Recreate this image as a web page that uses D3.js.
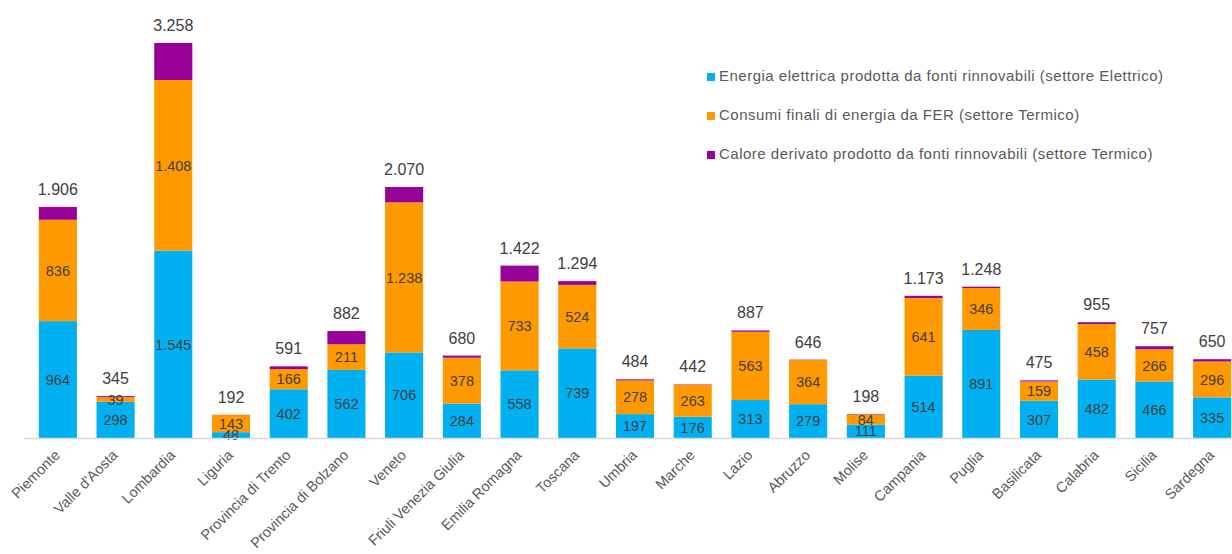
<!DOCTYPE html>
<html>
<head>
<meta charset="utf-8">
<script src="https://cdn.jsdelivr.net/npm/d3@7"></script>
<style>
  html, body { margin: 0; padding: 0; background: #fff; }
  svg { display: block; font-family: "Liberation Sans", Arial, sans-serif; }
</style>
</head>
<body>
<svg id="chart" width="1232" height="554"></svg>
<script>
// Regions (x categories)
const regions = ["Piemonte", "Valle d'Aosta", "Lombardia", "Liguria", "Provincia di Trento",
  "Provincia di Bolzano", "Veneto", "Friuli Venezia Giulia", "Emilia Romagna", "Toscana",
  "Umbria", "Marche", "Lazio", "Abruzzo", "Molise", "Campania", "Puglia", "Basilicata",
  "Calabria", "Sicilia", "Sardegna"];

// Energia elettrica prodotta da fonti rinnovabili (settore Elettrico)
const elettrico = [964, 298, 1545, 48, 402, 562, 706, 284, 558, 739, 197, 176, 313, 279, 111, 514, 891, 307, 482, 466, 335];
// Consumi finali di energia da FER (settore Termico)
const termico = [836, 39, 1408, 143, 166, 211, 1238, 378, 733, 524, 278, 263, 563, 364, 84, 641, 346, 159, 458, 266, 296];
// Calore derivato prodotto da fonti rinnovabili (settore Termico)
const calore = [106, 8, 305, 1, 23, 109, 126, 18, 131, 31, 9, 3, 11, 3, 3, 18, 11, 9, 15, 25, 19];
// Totals printed above each bar
const totali = [1906, 345, 3258, 192, 591, 882, 2070, 680, 1422, 1294, 484, 442, 887, 646, 198, 1173, 1248, 475, 955, 757, 650];

const seriesNames = [
  "Energia elettrica prodotta da fonti rinnovabili (settore Elettrico)",
  "Consumi finali di energia da FER (settore Termico)",
  "Calore derivato prodotto da fonti rinnovabili (settore Termico)"
];
const colors = ["#00B0F0", "#FF9900", "#990099"];

const it = d3.formatLocale({ decimal: ",", thousands: ".", grouping: [3], currency: ["€", ""] });
const fmt = it.format(",d");

const svg = d3.select("#chart");
const baseY = 438;

const rows = regions.map((r, i) => ({ region: r, el: elettrico[i], te: termico[i], ca: calore[i], tot: totali[i] }));
const keys = ["el", "te", "ca"];
const stacked = d3.stack().keys(keys)(rows);

const x = d3.scaleBand().domain(regions).range([29, 1241]).paddingInner(0.34).paddingOuter(0.17);
const y = d3.scaleLinear().domain([0, 3258]).range([baseY, 43]);

// Stacked segments
const layer = svg.append("g").selectAll("g").data(stacked).join("g")
  .attr("fill", (d, i) => colors[i]);
layer.selectAll("rect").data(d => d).join("rect")
  .attr("x", d => x(d.data.region))
  .attr("width", x.bandwidth())
  .attr("y", d => y(d[1]))
  .attr("height", d => y(d[0]) - y(d[1]));

// Segment value labels (first two series)
stacked.slice(0, 2).forEach(s => {
  svg.append("g").selectAll("text").data(s).join("text")
    .attr("x", d => x(d.data.region) + x.bandwidth() / 2)
    .attr("y", d => (y(d[0]) + y(d[1])) / 2)
    .attr("dy", "0.36em")
    .attr("text-anchor", "middle")
    .attr("font-size", 14.5)
    .attr("fill", "#404040")
    .text(d => fmt(d[1] - d[0]));
});

// Totals above the bars
svg.append("g").selectAll("text").data(rows).join("text")
  .attr("x", d => x(d.region) + x.bandwidth() / 2)
  .attr("y", d => y(d.el + d.te + d.ca) - 12)
  .attr("text-anchor", "middle")
  .attr("font-size", 16)
  .attr("fill", "#404040")
  .text(d => fmt(d.tot));

// Baseline
svg.append("line")
  .attr("x1", 24).attr("x2", 1232)
  .attr("y1", baseY + 0.5).attr("y2", baseY + 0.5)
  .attr("stroke", "#d9d9d9").attr("stroke-width", 1.5);

// Category labels, rotated
svg.append("g").selectAll("text").data(regions).join("text")
  .attr("transform", d => `translate(${x(d) + x.bandwidth() / 2 + 3},${baseY + 18}) rotate(-45)`)
  .attr("text-anchor", "end")
  .attr("font-size", 14.5)
  .attr("fill", "#595959")
  .text(d => d);

// Legend
const legend = svg.append("g").selectAll("g").data(seriesNames).join("g")
  .attr("transform", (d, i) => `translate(707,${76 + i * 39})`);
legend.append("rect")
  .attr("x", 0).attr("y", -3).attr("width", 8).attr("height", 8)
  .attr("fill", (d, i) => colors[i]);
legend.append("text")
  .attr("x", 12).attr("dy", "0.36em")
  .attr("font-size", 15)
  .attr("letter-spacing", 0.5)
  .attr("fill", "#595959")
  .text(d => d);
</script>
</body>
</html>
